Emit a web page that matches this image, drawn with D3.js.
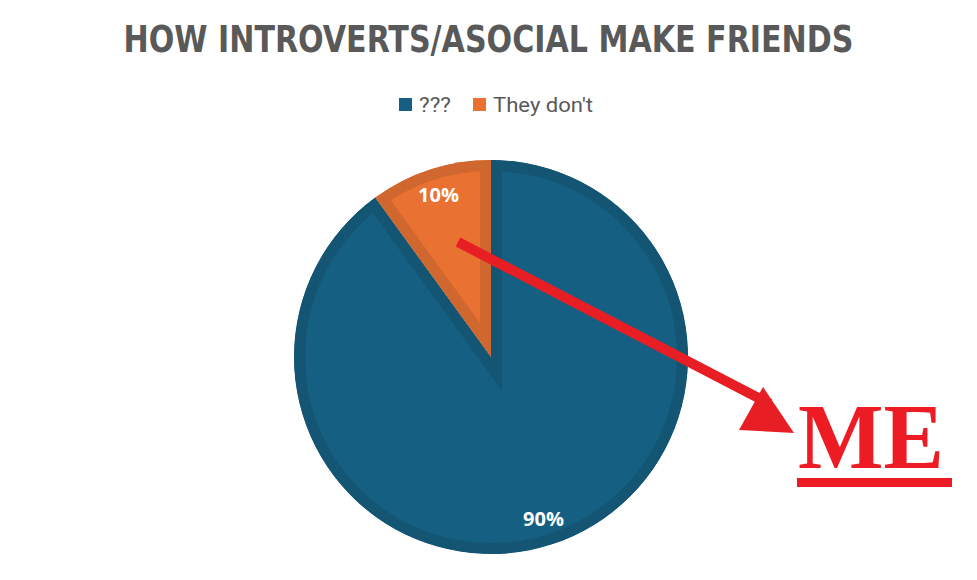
<!DOCTYPE html>
<html><head><meta charset="utf-8">
<script src="https://cdn.jsdelivr.net/npm/d3@7"></script>
<style>body{margin:0;background:#fff}svg{display:block}</style>
</head><body>
<svg id="c" width="977" height="580"></svg>
<script>
const categories = ["???", "They don't"];
const values = [90, 10];
const labels = ["90%", "10%"];
const title = "HOW INTROVERTS/ASOCIAL MAKE FRIENDS";
const annotation = "ME";

const fills = ["#156082", "#E97132"];
const borders = ["#135573", "#D0672E"];

const svg = d3.select("#c");
const W = 977;

svg.append("text").attr("x", W/2).attr("y", 52).attr("text-anchor","middle")
  .attr("font-family","'Liberation Sans Narrow','DejaVu Sans Condensed',Roboto,sans-serif")
  .attr("font-weight","bold").attr("font-size",37).attr("fill","#595959")
  .attr("textLength",730).attr("lengthAdjust","spacingAndGlyphs").text(title);

// legend
const lg = svg.append("g").attr("font-family","Roboto,'Liberation Sans',sans-serif").attr("font-size",21).attr("fill","#595959");
const legX = [399, 473];
const legW = [32, 100];
categories.forEach((c,i)=>{
  lg.append("rect").attr("x",legX[i]).attr("y",98).attr("width",13).attr("height",13).attr("fill",fills[i]);
  lg.append("text").attr("x",legX[i]+20).attr("y",112)
    .attr("textLength",legW[i]).attr("lengthAdjust","spacingAndGlyphs").text(c);
});

const cx = 491, cy = 357, r = 197;
const pie = d3.pie().sort(null).value(d=>d)(values);
const arc = d3.arc().innerRadius(0).outerRadius(r);
const g = svg.append("g").attr("transform",`translate(${cx},${cy})`);
const defs = svg.append("defs");
pie.forEach((p,i)=>{
  defs.append("clipPath").attr("id","cp"+i).append("path").attr("d",arc(p));
  g.append("path").attr("d",arc(p)).attr("fill",fills[i])
    .attr("stroke",borders[i]).attr("stroke-width",22).attr("stroke-linejoin","miter")
    .attr("clip-path",`url(#cp${i})`);
});
const lab = d3.arc().innerRadius(170).outerRadius(170);
pie.forEach((p,i)=>{
  const [x,y] = lab.centroid(p);
  g.append("text").attr("x",x).attr("y",y+7).attr("text-anchor","middle")
    .attr("font-family","'Open Sans',Roboto,sans-serif").attr("font-weight","bold")
    .attr("font-size",20).attr("fill","#fff").text(labels[i]);
});

// arrow annotation
const red = "#E81E25";
svg.append("line").attr("x1",458).attr("y1",242).attr("x2",770).attr("y2",404)
  .attr("stroke",red).attr("stroke-width",10);
svg.append("polygon").attr("points","794,433 763,387 739,430").attr("fill",red);
svg.append("text").attr("x",798).attr("y",468)
  .attr("font-family","'Liberation Serif','DejaVu Serif',serif").attr("font-weight","bold")
  .attr("font-size",94).attr("fill","#ED1C24")
  .attr("textLength",146).attr("lengthAdjust","spacingAndGlyphs").text(annotation);
svg.append("rect").attr("x",797).attr("y",478).attr("width",155).attr("height",9).attr("fill","#ED1C24");
</script>
</body></html>
